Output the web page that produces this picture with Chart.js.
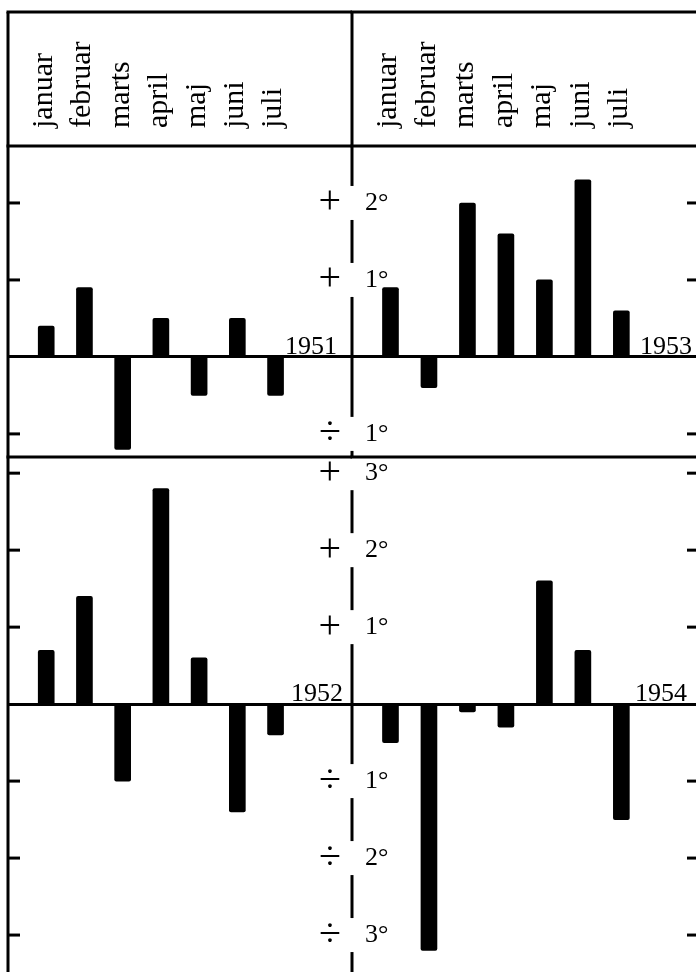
<!DOCTYPE html>
<html>
<head>
<meta charset="utf-8">
<script src="https://cdn.jsdelivr.net/npm/chart.js@4.4.1/dist/chart.umd.min.js"></script>
<style>
  html, body { margin: 0; padding: 0; background: #fff; overflow: hidden; }
  #wrap { position: relative; width: 696px; height: 972px; }
  #wrap canvas { position: absolute; left: 0; top: 0; }
</style>
</head>
<body>
<div id="wrap">
  <canvas id="c1951" width="696" height="972"></canvas>
  <canvas id="c1953" width="696" height="972"></canvas>
  <canvas id="c1952" width="696" height="972"></canvas>
  <canvas id="c1954" width="696" height="972"></canvas>
</div>
<script>
'use strict';

// temperature deviation from normal, degrees, january - july
const months = ['januar', 'februar', 'marts', 'april', 'maj', 'juni', 'juli'];
const dev1951 = [0.4, 0.9, -1.2, 0.5, -0.5, 0.5, -0.5];
const dev1952 = [0.7, 1.4, -1.0, 2.8, 0.6, -1.4, -0.4];
const dev1953 = [0.9, -0.4, 2.0, 1.6, 1.0, 2.3, 0.6];
const dev1954 = [-0.5, -3.2, -0.1, -0.3, 1.6, 0.7, -1.5];

const topRange = [-1.3, 2.74];
const bottomRange = [-3.48, 3.21];

const serif = '"Liberation Serif", "Times New Roman", serif';

// borders, inward tick marks, broken middle line and year label
const framePlugin = {
    id: 'frame',
    afterDraw(chart, args, opts) {
        const {ctx, chartArea: a} = chart;
        const y = chart.scales.y;
        const zero = y.getPixelForValue(0);
        const levels = y.ticks
            .map(t => t.value)
            .filter(v => v !== 0 && Number.isInteger(v))
            .map(v => y.getPixelForValue(v));
        const top = opts.header ? chart.scales.x.top : a.top;

        const seg = (x1, y1, x2, y2, w) => {
            ctx.lineWidth = w;
            ctx.beginPath();
            ctx.moveTo(x1, y1);
            ctx.lineTo(x2, y2);
            ctx.stroke();
        };

        ctx.save();
        ctx.strokeStyle = '#000';
        ctx.fillStyle = '#000';

        if (opts.side === 'left') {
            seg(a.left, top, a.left, a.bottom, 3);
            levels.forEach(p => seg(a.left, p, a.left + 12, p, 3));
        } else {
            levels.forEach(p => seg(a.right - 9, p, a.right, p, 3));
            if (opts.header) {
                seg(a.left, top, a.left, a.top, 3);
            }
            let from = a.top;
            levels.slice().sort((p, q) => p - q).forEach(p => {
                if (p - 17 > from) seg(a.left, from, a.left, p - 17, 3);
                from = p + 17;
            });
            if (from < a.bottom) seg(a.left, from, a.left, a.bottom, 3);
        }

        if (opts.header) {
            seg(a.left - 1.5, top, a.right, top, 3);
            seg(a.left - 1.5, a.top, a.right, a.top, 3);
            seg(a.left - 1.5, a.bottom, a.right, a.bottom, 3);
        }

        ctx.font = '26px ' + serif;
        ctx.textAlign = 'right';
        ctx.textBaseline = 'alphabetic';
        ctx.fillText(opts.year, a.right - opts.inset, zero - 3);
        ctx.restore();
    }
};

function makeChart(id, year, values, side, row, inset) {
    const header = row === 'top';
    const left = side === 'left';
    const range = header ? topRange : bottomRange;

    return new Chart(document.getElementById(id), {
        type: 'bar',
        data: {
            datasets: [{
                label: year,
                data: months.map((m, i) => ({x: i + 1, y: values[i]})),
                backgroundColor: '#000',
                barThickness: 16,
                borderRadius: 2
            }]
        },
        options: {
            responsive: false,
            animation: false,
            layout: {
                padding: {
                    left: left ? 8 : 352,
                    right: left ? 344 : 0,
                    top: header ? 12 : 457,
                    bottom: header ? 515 : 0
                }
            },
            plugins: {
                legend: {display: false},
                tooltip: {enabled: false},
                frame: {side: side, year: year, inset: inset, header: header}
            },
            scales: {
                x: {
                    type: 'linear',
                    position: 'top',
                    display: header,
                    offset: false,
                    min: 0,
                    max: left ? 9 : 8.94,
                    grid: {display: false},
                    border: {display: false},
                    ticks: {
                        stepSize: 1,
                        autoSkip: false,
                        includeBounds: false,
                        minRotation: 90,
                        maxRotation: 90,
                        padding: 10,
                        labelOffset: 34,
                        color: '#000',
                        font: {family: serif, size: 30},
                        callback: v => months[v - 1] || ''
                    },
                    afterFit: s => {
                        if (header) s.height = 134;
                        s.paddingLeft = 0;
                        s.paddingRight = 0;
                    }
                },
                y: {
                    position: left ? 'right' : 'left',
                    min: range[0],
                    max: range[1],
                    grid: {
                        drawTicks: false,
                        lineWidth: 3,
                        color: c => c.tick && c.tick.value === 0 ? '#000' : 'rgba(0,0,0,0)'
                    },
                    border: {display: false},
                    ticks: {
                        stepSize: 1,
                        includeBounds: false,
                        mirror: true,
                        padding: left ? -11 : 13,
                        color: '#000',
                        font: {family: serif, size: left ? 40 : 26},
                        callback: v => {
                            if (v === 0) return '';
                            if (left) return v > 0 ? '+' : '\u00f7';
                            return Math.abs(v) + '\u00b0';
                        }
                    },
                    afterFit: s => {
                        s.width = 0;
                        s.paddingTop = 0;
                        s.paddingBottom = 0;
                    }
                }
            }
        },
        plugins: [framePlugin]
    });
}

makeChart('c1951', '1951', dev1951, 'left', 'top', 15);
makeChart('c1953', '1953', dev1953, 'right', 'top', 4);
makeChart('c1952', '1952', dev1952, 'left', 'bottom', 9);
makeChart('c1954', '1954', dev1954, 'right', 'bottom', 9);
</script>
</body>
</html>
